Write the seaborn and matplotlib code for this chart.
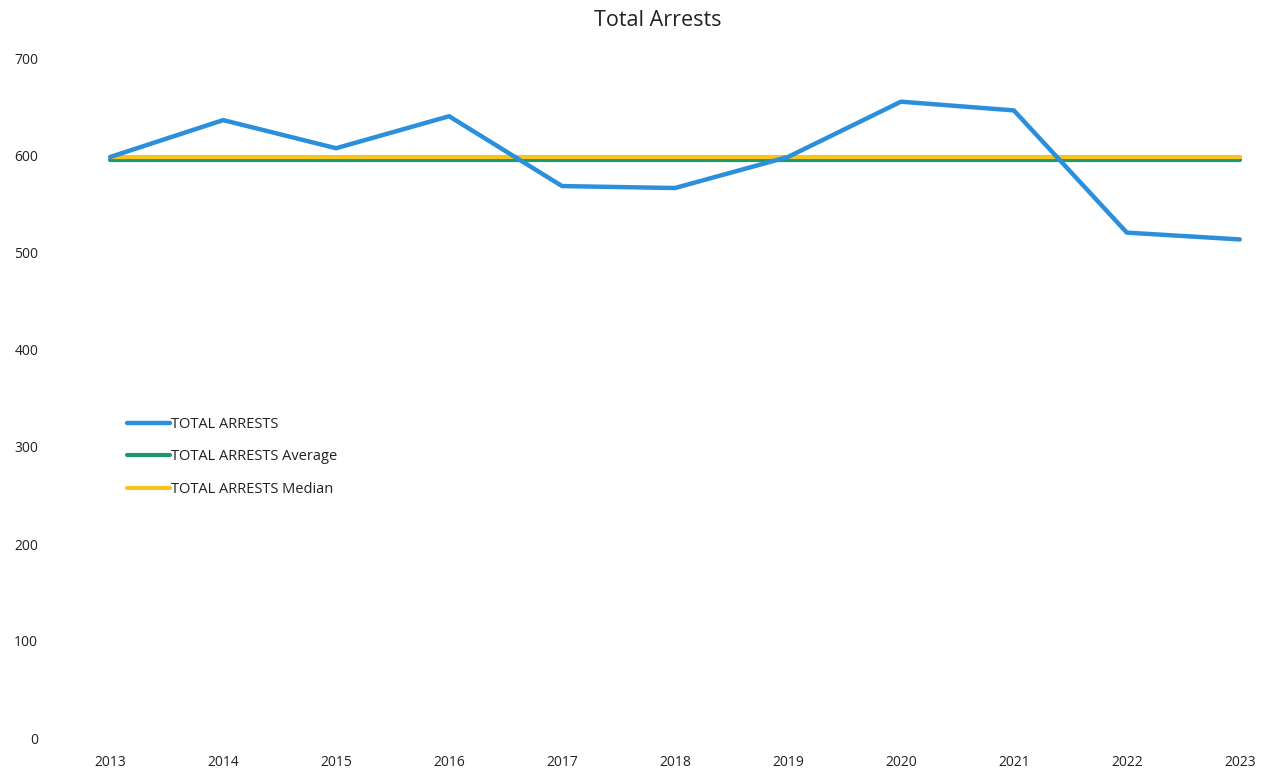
import numpy as np
import pandas as pd
import seaborn as sns
import matplotlib
matplotlib.use("Agg")
import matplotlib.pyplot as plt

# Yearly arrest totals
years = [2013, 2014, 2015, 2016, 2017, 2018, 2019, 2020, 2021, 2022, 2023]
total_arrests = [599, 637, 608, 641, 569, 567, 599, 656, 647, 521, 514]

series_names = ["TOTAL ARRESTS", "TOTAL ARRESTS Average", "TOTAL ARRESTS Median"]
series_colors = ["#2b8fdc", "#1e9a6a", "#f6c41c"]
y_ticks = [0, 100, 200, 300, 400, 500, 600, 700]

avg_value = float(np.mean(total_arrests))
median_value = float(np.median(total_arrests))

df = pd.concat([
    pd.DataFrame({"Year": years, "Value": total_arrests, "Series": series_names[0]}),
    pd.DataFrame({"Year": years, "Value": [avg_value] * len(years), "Series": series_names[1]}),
    pd.DataFrame({"Year": years, "Value": [median_value] * len(years), "Series": series_names[2]}),
])

sns.set_theme(style="white")
plt.rcParams["font.family"] = ["Open Sans", "DejaVu Sans"]

W, H = 1268, 773
fig = plt.figure(figsize=(W / 100, H / 100), dpi=100)
ax_left, ax_right = 82, 1268
ax_top, ax_bottom = 59, 738
ax = fig.add_axes([ax_left / W, (H - ax_bottom) / H,
                   (ax_right - ax_left) / W, (ax_bottom - ax_top) / H])

# Average first, median over it, the yearly series on top
for name, color, z, lw in [(series_names[1], series_colors[1], 2, 3.0),
                           (series_names[2], series_colors[2], 3, 3.0),
                           (series_names[0], series_colors[0], 4, 3.2)]:
    sub = df[df["Series"] == name]
    sns.lineplot(data=sub, x="Year", y="Value", color=color, linewidth=lw,
                 label=name, ax=ax, zorder=z, solid_capstyle="round")

ax.set_xlim(years[0] - 0.25, years[-1] + 0.25)
ax.set_ylim(0, 700)
ax.set_xticks(years)
ax.set_xticklabels([str(y) for y in years], fontsize=10, color="#222222")
ax.set_yticks(y_ticks)
ax.set_yticklabels([str(v) for v in y_ticks], fontsize=10, color="#222222")
ax.tick_params(axis="y", length=0, pad=31.5)
ax.tick_params(axis="x", length=0, pad=12)
ax.set_xlabel("")
ax.set_ylabel("")
for s in ax.spines.values():
    s.set_visible(False)
ax.grid(False)

fig.text(658 / W, 1 - 21 / H, "Total Arrests", ha="center", va="center",
         fontsize=15.5, color="#222222")

handles, labels = ax.get_legend_handles_labels()
order = [labels.index(n) for n in series_names]
ax.legend([handles[i] for i in order], [labels[i] for i in order],
          loc="upper left", bbox_to_anchor=(127 / W, 1 - 417 / H),
          bbox_transform=fig.transFigure, frameon=False, fontsize=10.5,
          handlelength=2.95, handletextpad=0.1, labelspacing=1.2,
          borderpad=0, borderaxespad=0, labelcolor="#222222")

fig.savefig("out.png", dpi=100, facecolor="white")
